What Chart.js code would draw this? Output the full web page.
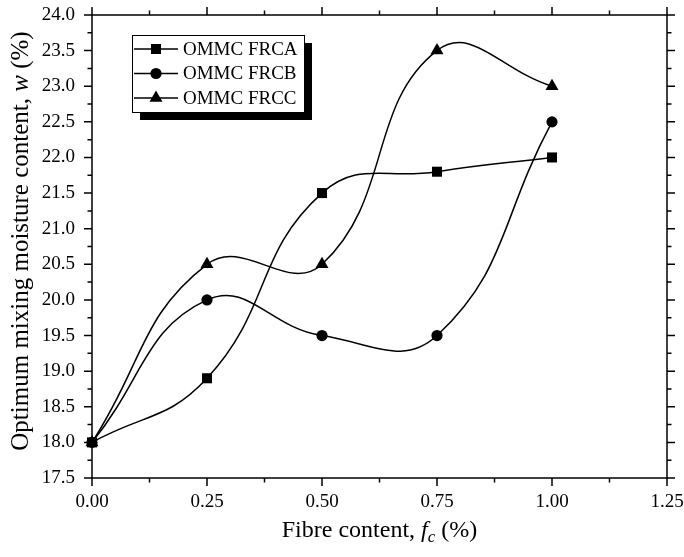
<!DOCTYPE html>
<html>
<head>
<meta charset="utf-8">
<script src="https://cdn.jsdelivr.net/npm/chart.js@4.4.1/dist/chart.umd.min.js"></script>
<style>
  html, body { margin: 0; padding: 0; background: #fff; }
</style>
</head>
<body>
<canvas id="myChart" width="684" height="557"></canvas>
<script>
// fibre content (%) and optimum mixing moisture content (%)
var fibre = [0, 0.25, 0.5, 0.75, 1.0];
var frca = [18.0, 18.9, 21.5, 21.8, 22.0];
var frcb = [18.0, 20.0, 19.5, 19.5, 22.5];
var frcc = [18.0, 20.5, 20.5, 23.5, 23.0];
var names = ['OMMC FRCA', 'OMMC FRCB', 'OMMC FRCC'];
var styles = ['rect', 'circle', 'triangle'];
var radii = [7.1, 5.6, 7.5];

var xMin = 0, xMax = 1.25, xStep = 0.25;
var yMin = 17.5, yMax = 24.0, yStep = 0.5;

var serif = "'Liberation Serif', 'Times New Roman', serif";

function pts(ys) {
  var out = [];
  for (var i = 0; i < fibre.length; i++) out.push({x: fibre[i], y: ys[i]});
  return out;
}

function makeSet(k, ys) {
  return {
    label: names[k],
    data: pts(ys),
    borderColor: '#000',
    backgroundColor: '#000',
    borderWidth: 1.5,
    pointStyle: styles[k],
    pointRadius: radii[k],
    pointBorderWidth: 0,
    pointBackgroundColor: '#000',
    tension: 0.45,
    clip: false
  };
}

// draws a title made of runs with their own font and baseline shift
function drawRuns(ctx, parts, x0, y0) {
  var total = 0;
  for (var i = 0; i < parts.length; i++) { ctx.font = parts[i].f; total += ctx.measureText(parts[i].t).width; }
  var cx = x0 - total / 2;
  for (var j = 0; j < parts.length; j++) {
    ctx.font = parts[j].f;
    ctx.fillText(parts[j].t, cx, y0 + (parts[j].dy || 0));
    cx += ctx.measureText(parts[j].t).width;
  }
}

// frame, outward ticks on all four sides, legend box and axis titles
var decor = {
  id: 'decor',
  afterDraw: function(chart) {
    var ctx = chart.ctx;
    var a = chart.chartArea;
    var xs = chart.scales.x, ys = chart.scales.y;
    ctx.save();
    ctx.strokeStyle = '#000';
    ctx.lineWidth = 1.5;
    ctx.strokeRect(a.left, a.top, a.right - a.left, a.bottom - a.top);

    var major = 8, minor = 4.5;
    ctx.beginPath();
    for (var v = xMin; v <= xMax + 1e-9; v += xStep / 2) {
      var px = xs.getPixelForValue(v);
      var isMajor = Math.abs(v / xStep - Math.round(v / xStep)) < 1e-6;
      var len = isMajor ? major : minor;
      ctx.moveTo(px, a.bottom); ctx.lineTo(px, a.bottom + len);
      ctx.moveTo(px, a.top); ctx.lineTo(px, a.top - len);
    }
    for (var w = yMin; w <= yMax + 1e-9; w += yStep / 2) {
      var py = ys.getPixelForValue(w);
      var isMaj = Math.abs(w / yStep - Math.round(w / yStep)) < 1e-6;
      var l2 = isMaj ? major : minor;
      ctx.moveTo(a.left, py); ctx.lineTo(a.left - l2, py);
      ctx.moveTo(a.right, py); ctx.lineTo(a.right + l2, py);
    }
    ctx.stroke();

    // legend with drop shadow
    var bx = 132, by = 35, bw = 172, bh = 77;
    ctx.fillStyle = '#000';
    ctx.fillRect(bx + 8, by + 8, bw, bh);
    ctx.fillStyle = '#fff';
    ctx.fillRect(bx, by, bw, bh);
    ctx.lineWidth = 1;
    ctx.strokeRect(bx + 0.5, by + 0.5, bw, bh);
    ctx.font = '19px ' + serif;
    ctx.textBaseline = 'middle';
    ctx.textAlign = 'left';
    for (var k = 0; k < names.length; k++) {
      var ry = by + 14 + k * 24.5;
      ctx.lineWidth = 1.5;
      ctx.beginPath();
      ctx.moveTo(bx + 2, ry); ctx.lineTo(bx + 46, ry);
      ctx.stroke();
      ctx.fillStyle = '#000';
      Chart.helpers.drawPoint(ctx, {pointStyle: styles[k], radius: radii[k], borderWidth: 0}, bx + 24, ry);
      ctx.fillText(names[k], bx + 51, ry + 1);
    }

    ctx.textBaseline = 'alphabetic';
    // x axis title with italic f and subscript c
    drawRuns(ctx, [
      {t: 'Fibre content, ', f: '24px ' + serif},
      {t: 'f', f: 'italic 24px ' + serif},
      {t: 'c', f: 'italic 17px ' + serif, dy: 5},
      {t: ' (%)', f: '24px ' + serif}
    ], (a.left + a.right) / 2, 537);

    // y axis title, rotated
    ctx.translate(28, 241);
    ctx.rotate(-Math.PI / 2);
    drawRuns(ctx, [
      {t: 'Optimum mixing moisture content, ', f: '25px ' + serif},
      {t: 'w', f: 'italic 25px ' + serif},
      {t: ' (%)', f: '25px ' + serif}
    ], 0, 0);
    ctx.restore();
  }
};

var ctx = document.getElementById('myChart').getContext('2d');
var myChart = new Chart(ctx, {
  type: 'line',
  data: {
    datasets: [makeSet(0, frca), makeSet(1, frcb), makeSet(2, frcc)]
  },
  options: {
    responsive: false,
    animation: false,
    layout: { padding: { left: 0, top: 15, right: 17, bottom: 0 } },
    plugins: {
      legend: { display: false },
      tooltip: { enabled: false }
    },
    scales: {
      x: {
        type: 'linear',
        min: xMin, max: xMax,
        grid: { display: false },
        border: { display: false },
        ticks: {
          stepSize: xStep,
          color: '#000',
          padding: 5,
          maxRotation: 0,
          font: { family: serif, size: 19 },
          callback: function(v) { return v.toFixed(2); }
        },
        afterFit: function(s) {
          s.height = 79;
          s.paddingLeft = 0;
          s.paddingRight = 0;
        }
      },
      y: {
        min: yMin, max: yMax,
        grid: { display: false },
        border: { display: false },
        ticks: {
          stepSize: yStep,
          color: '#000',
          padding: 9,
          font: { family: serif, size: 19 },
          callback: function(v) { return v.toFixed(1); }
        },
        afterFit: function(s) {
          s.width = 92;
          s.paddingTop = 0;
          s.paddingBottom = 0;
        }
      }
    }
  },
  plugins: [decor]
});
</script>
</body>
</html>
